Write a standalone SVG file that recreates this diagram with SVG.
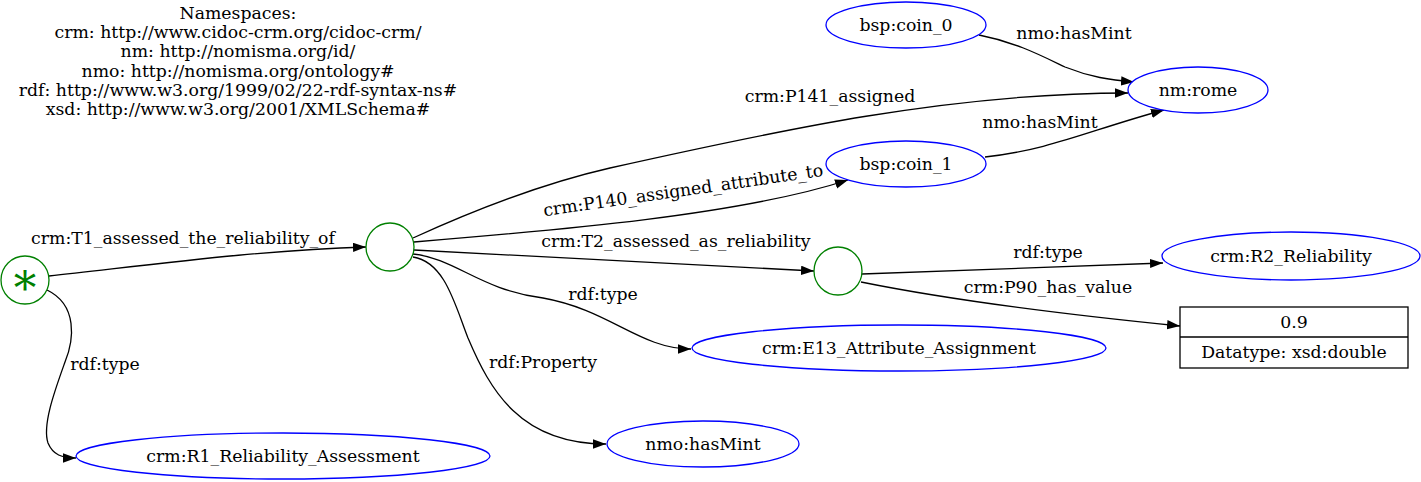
<svg xmlns="http://www.w3.org/2000/svg" width="1421" height="482" viewBox="0 0 1421 482">
<defs>
<marker id="arr" markerUnits="userSpaceOnUse" markerWidth="14" markerHeight="10" refX="13" refY="4.65" orient="auto">
<path d="M0,0 L13,4.65 L0,9.3 z" fill="#000"/>
</marker>
<style>
text{font-family:"DejaVu Serif","Liberation Serif",serif;font-size:17.3px;fill:#000;text-anchor:middle}
.res{fill:#fff;stroke:#0000ff;stroke-width:1.3}
.bn{fill:#fff;stroke:#008000;stroke-width:1.3}
.lit{fill:#fff;stroke:#000;stroke-width:1.3}
.e{fill:none;stroke:#000;stroke-width:1.3;marker-end:url(#arr)}
</style>
</defs>
<rect width="1421" height="482" fill="#fff"/>
<g id="namespaces">
<text x="238" y="19">Namespaces:</text>
<text x="238" y="38">crm: http://www.cidoc-crm.org/cidoc-crm/</text>
<text x="238" y="57">nm: http://nomisma.org/id/</text>
<text x="238" y="77">nmo: http://nomisma.org/ontology#</text>
<text x="238" y="96">rdf: http://www.w3.org/1999/02/22-rdf-syntax-ns#</text>
<text x="238" y="115">xsd: http://www.w3.org/2001/XMLSchema#</text>
</g>
<g id="edges">
<path class="e" d="M49,276 C150,265 260,250 366,247"/>
<text x="183" y="244">crm:T1_assessed_the_reliability_of</text>
<path class="e" d="M47,290 C78,305 74,340 65,362 C55,390 42,425 48,443 C53,455 62,458 76,458"/>
<text x="105" y="370">rdf:type</text>
<path class="e" d="M413,238 C470,212 540,184 610,168 C780,130 950,93 1128,93"/>
<text x="830" y="102">crm:P141_assigned</text>
<path class="e" d="M414,242 C560,230 740,215 848,180"/>
<text x="684" y="196" transform="rotate(-8.2 684 196)">crm:P140_assigned_attribute_to</text>
<path class="e" d="M414,250 L814,271"/>
<text x="676" y="247">crm:T2_assessed_as_reliability</text>
<path class="e" d="M413,254 C455,258 480,290 543,298 C610,310 640,349 691,349"/>
<text x="603" y="300">rdf:type</text>
<path class="e" d="M413,257 C445,262 455,305 468,338 C490,390 520,444 606,444"/>
<text x="543" y="368">rdf:Property</text>
<path class="e" d="M979,35 C1015,42 1040,55 1065,67 C1090,77 1110,80 1134,82"/>
<text x="1074" y="39">nmo:hasMint</text>
<path class="e" d="M985,157 C1050,150 1090,130 1164,110"/>
<text x="1040" y="128">nmo:hasMint</text>
<path class="e" d="M862,274 L1163,263"/>
<text x="1048" y="258">rdf:type</text>
<path class="e" d="M861,282 C950,300 1070,315 1180,326"/>
<text x="1048" y="293">crm:P90_has_value</text>
</g>
<g id="star">
<circle class="bn" cx="25" cy="280" r="24"/>
<text x="25" y="304" style="font-size:45px;fill:#008000">*</text>
</g>
<g id="blank1"><circle class="bn" cx="390" cy="247" r="24"/></g>
<g id="blank2"><circle class="bn" cx="838" cy="271" r="24"/></g>
<g id="coin0"><ellipse class="res" cx="906" cy="25" rx="80" ry="23"/><text x="906" y="31">bsp:coin_0</text></g>
<g id="rome"><ellipse class="res" cx="1198" cy="90" rx="70" ry="23"/><text x="1198" y="96">nm:rome</text></g>
<g id="coin1"><ellipse class="res" cx="906" cy="164" rx="80" ry="23"/><text x="906" y="170">bsp:coin_1</text></g>
<g id="r2"><ellipse class="res" cx="1291" cy="256" rx="129" ry="24"/><text x="1291" y="262">crm:R2_Reliability</text></g>
<g id="literal">
<rect class="lit" x="1180" y="307" width="228" height="61"/>
<line class="lit" x1="1180" y1="337" x2="1408" y2="337"/>
<text x="1294" y="328">0.9</text>
<text x="1294" y="358">Datatype: xsd:double</text>
</g>
<g id="e13"><ellipse class="res" cx="899" cy="348" rx="207" ry="23"/><text x="899" y="354">crm:E13_Attribute_Assignment</text></g>
<g id="hasmint"><ellipse class="res" cx="703" cy="444" rx="96" ry="23"/><text x="703" y="450">nmo:hasMint</text></g>
<g id="r1"><ellipse class="res" cx="283" cy="456" rx="207" ry="23"/><text x="283" y="462">crm:R1_Reliability_Assessment</text></g>
</svg>
